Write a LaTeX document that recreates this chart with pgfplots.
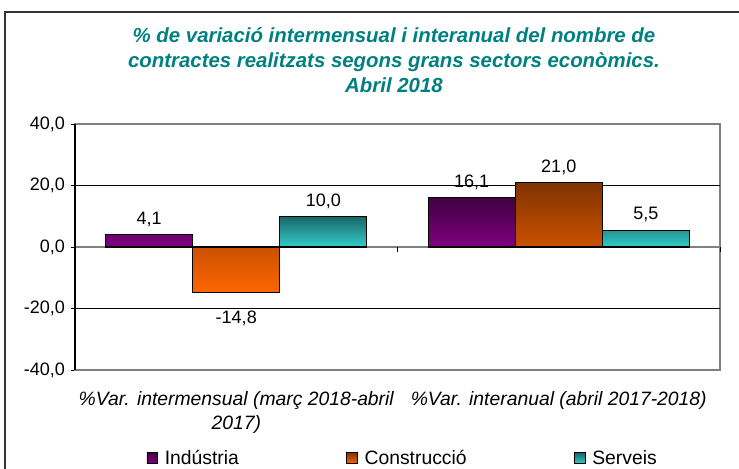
\documentclass[border=0pt]{standalone}
\usepackage{pgfplots}
\pgfplotsset{compat=1.18}
\usepackage{fontspec}
\setmainfont{Liberation Sans}
\definecolor{cPur}{HTML}{800080}
\definecolor{cOra}{HTML}{FF6600}
\definecolor{cTea}{HTML}{33CCCC}
\definecolor{cTitle}{HTML}{008080}
\begin{document}
\begin{tikzpicture}
\path[use as bounding box] (0pt,0pt) rectangle (554.25pt,-351pt);
\draw[line width=1.1pt, black!80] (3.75pt,-360pt) -- (3.75pt,-9pt) -- (560pt,-9pt);
\node[align=center, text=cTitle, font=\bfseries\itshape\fontsize{15.3}{18.75}\selectfont] at (295.5pt,-45pt)
 {\% de variació intermensual i interanual del nombre de\\contractes realitzats segons grans sectors econòmics.\\Abril 2018};
\begin{axis}[
 at={(56.25pt,-277.5pt)}, anchor=south west,
 scale only axis, width=483.75pt, height=184.5pt,
 xmin=-0.5, xmax=1.5, ymin=-40, ymax=40,
 xtick={0,1},
 xticklabels={{\%Var. intermensual (març 2018-abril\\2017)},{\%Var. interanual (abril 2017-2018)}},
 x tick label style={font=\itshape\fontsize{14.5}{18}\selectfont, align=center, yshift=-9.5pt},
 xtick style={draw=none},
 ytick={-40,-20,0,20,40},
 ytick pos=left, tick align=outside, major tick length=3pt,
 y tick label style={font=\fontsize{13.5}{15}\selectfont, xshift=-1pt},
 /pgf/number format/.cd, fixed, fixed zerofill, precision=1, use comma, assume math mode=true,
 /pgfplots/.cd,
 axis line style={draw=gray, line width=0.8pt},
 ytick style={black, line width=0.6pt},
 extra y ticks={-20,20}, extra y tick labels={},
 extra y tick style={grid=major, major grid style={black, line width=0.6pt}, major tick length=0pt},
 nodes near coords,
 every node near coord/.append style={font=\fontsize{13.5}{15}\selectfont, text=black, inner ysep=5.5pt, fill=none},
 clip=false,
 legend columns=3,
 legend style={at={(0.509,-0.358)}, anchor=center, draw=none, fill=none,
   font=\fontsize{14.5}{16}\selectfont,
   /tikz/every even column/.append style={column sep=78pt},
   nodes={inner xsep=2.5pt}},
]
\draw[gray, line width=0.8pt] (axis cs:-0.5,0) -- (axis cs:1.5,0);
\draw[black, line width=0.6pt] (axis cs:0.5,0) -- ++(0pt,-4pt);
\draw[black, line width=0.6pt] (axis cs:1.5,0) -- ++(0pt,-4pt);
\addplot[ybar, bar width=0.27, bar shift=-0.27, draw=black, line width=0.8pt,
  top color=cPur!50!black, bottom color=cPur,
  every node near coord/.append style={xshift=-65.3pt},
  legend image code/.code={\draw[fill=cPur, draw=black, line width=0.6pt] (0pt,-4pt) rectangle (8pt,4pt);\path (10.5pt,0pt);}]
  coordinates {(0,4.1) (1,16.1)};
\addlegendentry{Indústria}
\addplot[ybar, bar width=0.27, bar shift=0, draw=black, line width=0.8pt,
  top color=cOra!50!black, bottom color=cOra,
  coordinate style/.condition={\coordindex==0}{yshift=-8pt},
  legend image code/.code={\draw[fill=cOra, draw=black, line width=0.6pt] (0pt,-4pt) rectangle (8pt,4pt);\path (10.5pt,0pt);}]
  coordinates {(0,-14.8) (1,21.0)};
\addlegendentry{Construcció}
\addplot[ybar, bar width=0.27, bar shift=0.27, draw=black, line width=0.8pt,
  top color=cTea!50!black, bottom color=cTea,
  every node near coord/.append style={xshift=65.3pt},
  legend image code/.code={\draw[fill=cTea, draw=black, line width=0.6pt] (0pt,-4pt) rectangle (8pt,4pt);\path (10.5pt,0pt);}]
  coordinates {(0,10.0) (1,5.5)};
\addlegendentry{Serveis}
\draw[black, line width=0.8pt] (rel axis cs:0,0) -- (rel axis cs:0,1);
\end{axis}
\end{tikzpicture}
\end{document}
